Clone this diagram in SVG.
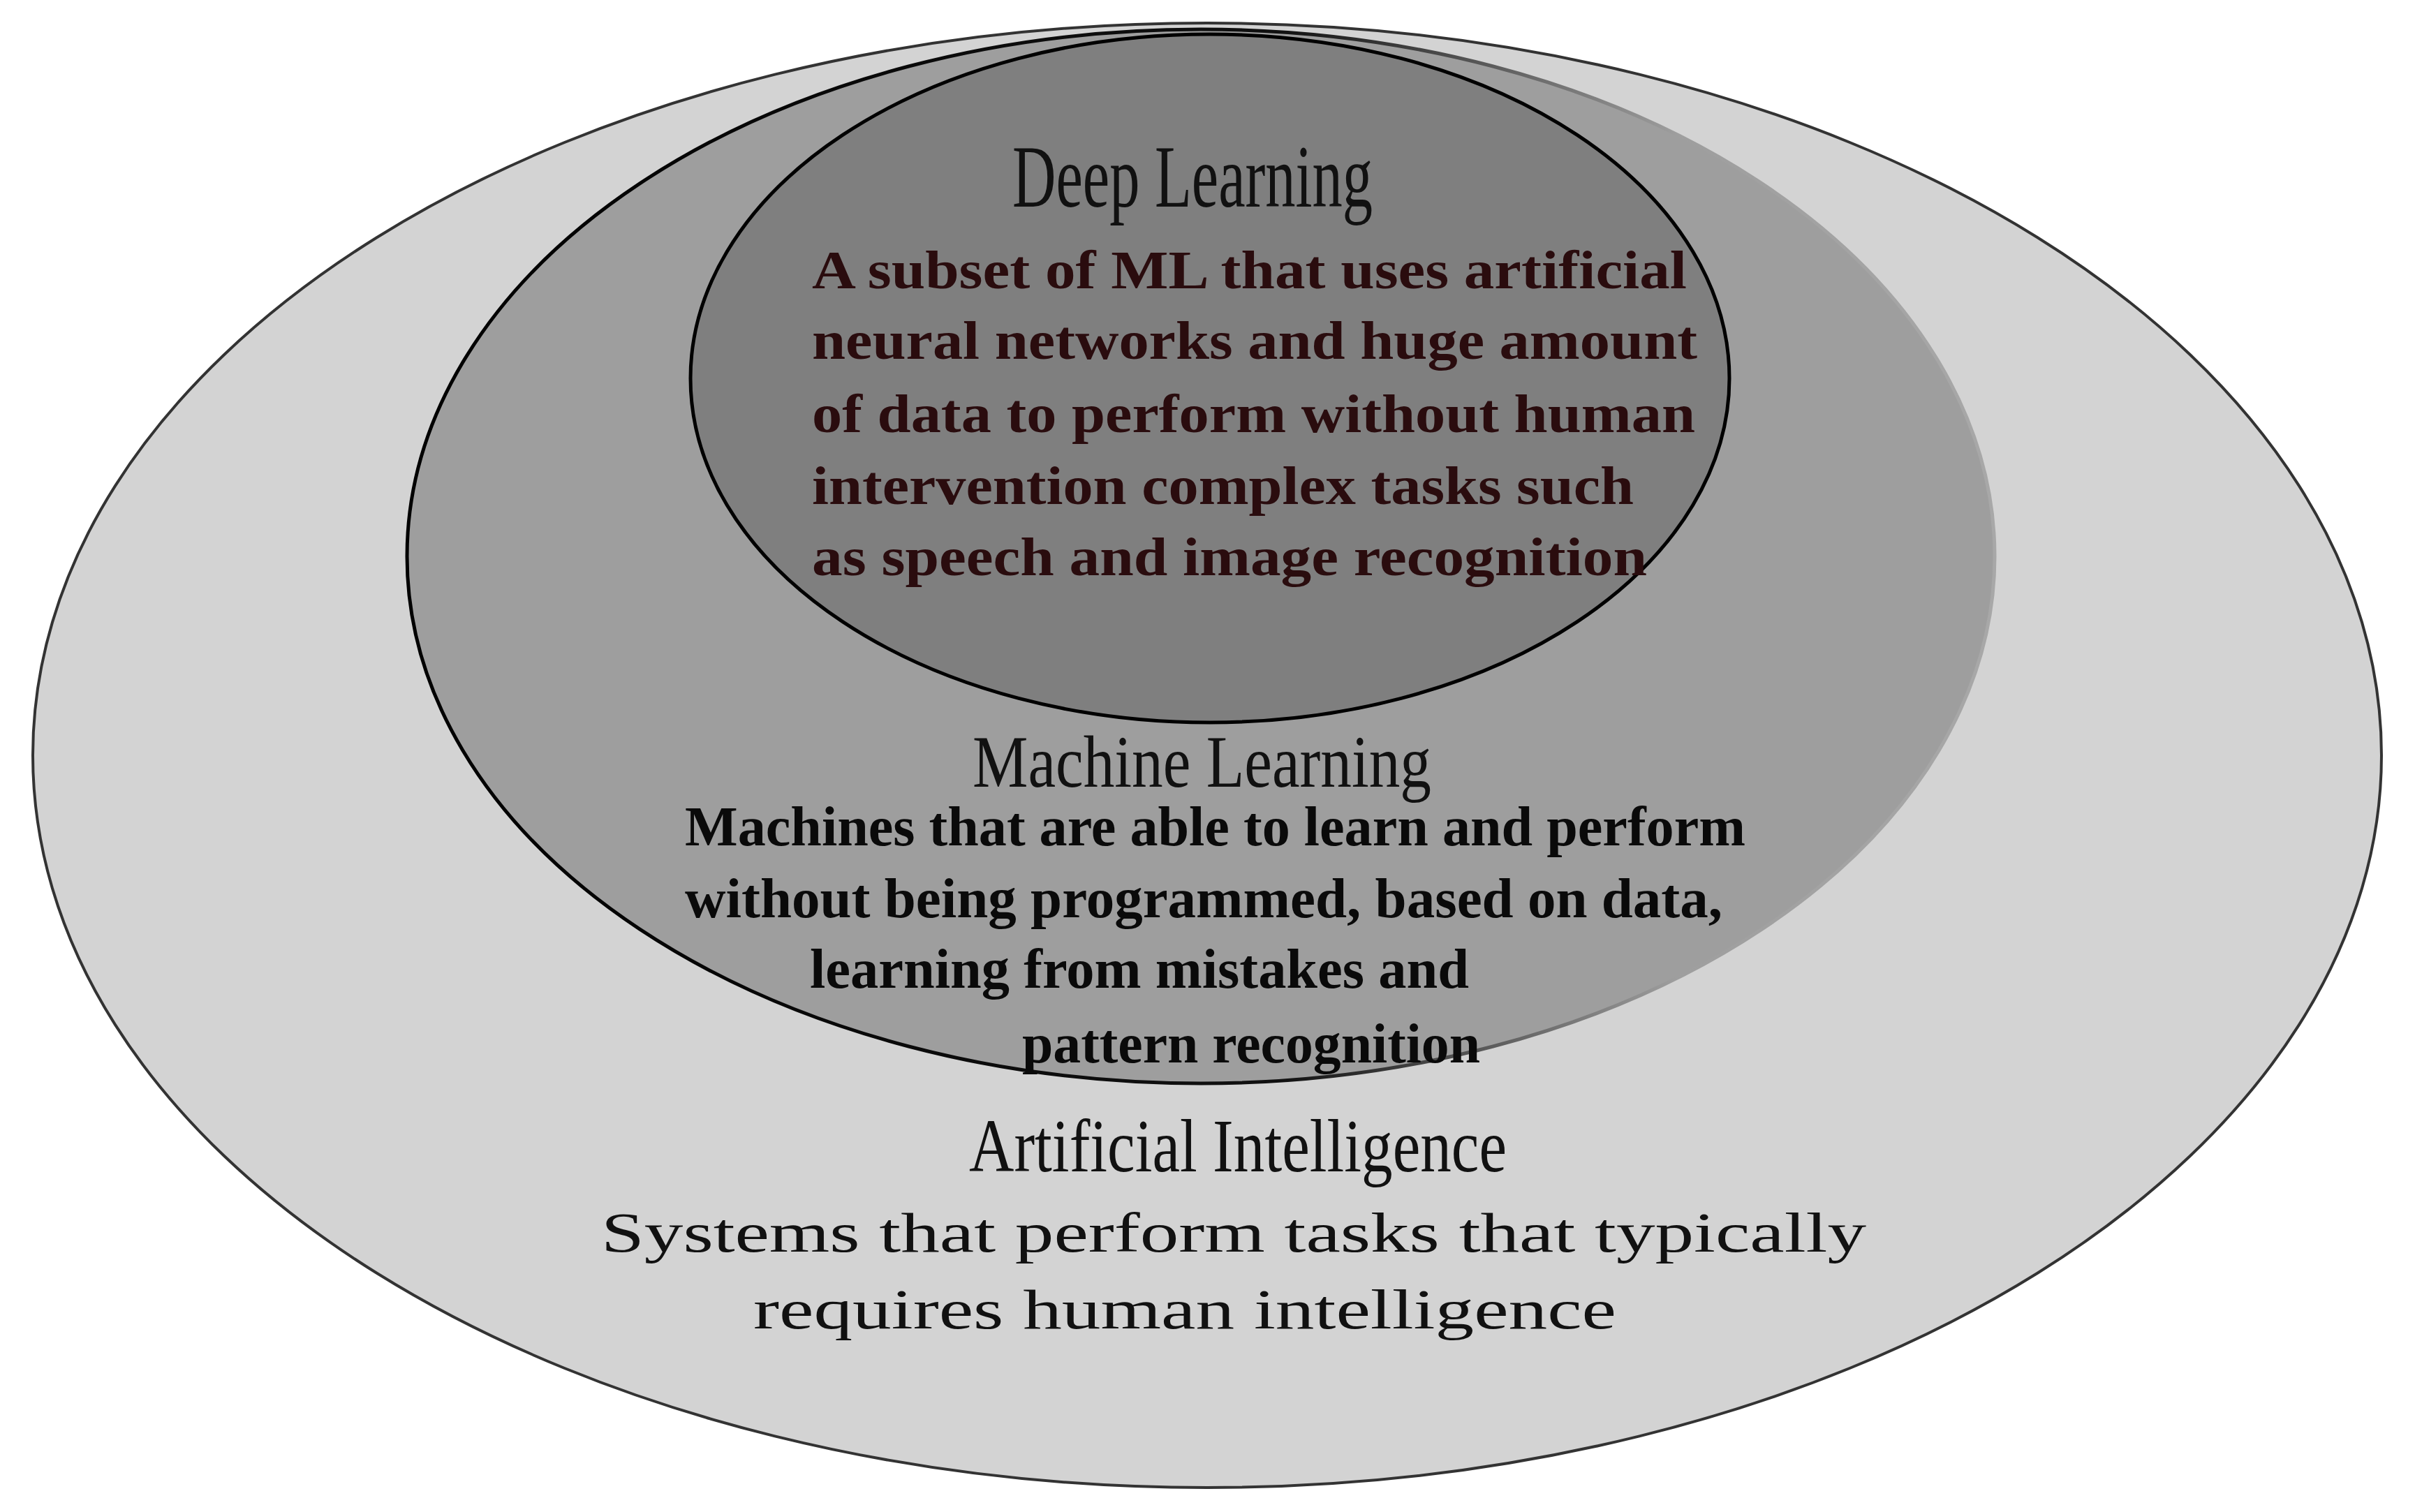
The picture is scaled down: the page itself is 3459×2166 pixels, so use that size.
<svg xmlns="http://www.w3.org/2000/svg" width="3459" height="2166" viewBox="0 0 3459 2166">
  <style>
    .title { font-family: "Liberation Serif", "Times New Roman", serif; font-weight: normal; fill: #111; }
    .dlbody { font-family: "Liberation Serif", "Times New Roman", serif; font-weight: bold; fill: #2a0c0e; font-size: 78px; }
    .mlbody { font-family: "Liberation Serif", "Times New Roman", serif; font-weight: bold; fill: #0a0a0a; font-size: 80px; }
    .aibody { font-family: "Liberation Serif", "Times New Roman", serif; font-weight: normal; fill: #111; font-size: 80px; }
  </style>
  <defs>
    <linearGradient id="mlStroke" x1="0" y1="0" x2="1" y2="0">
      <stop offset="0" stop-color="#000"/>
      <stop offset="0.55" stop-color="#111"/>
      <stop offset="0.8" stop-color="#9e9e9e"/>
      <stop offset="1" stop-color="#a8a8a8"/>
    </linearGradient>
  </defs>
  <rect x="0" y="0" width="3459" height="2166" fill="#ffffff"/>
  <g id="connectors"/>
  <g id="ai">
    <ellipse cx="1729" cy="1082" rx="1682" ry="1049" fill="#d3d3d3" stroke="#333" stroke-width="4"/>
    <text class="title" x="1388" y="1678" font-size="108" textLength="770" lengthAdjust="spacingAndGlyphs">Artificial Intelligence</text>
    <text class="aibody" x="861" y="1793" textLength="1812" lengthAdjust="spacingAndGlyphs">Systems that perform tasks that typically</text>
    <text class="aibody" x="1079" y="1903" textLength="1236" lengthAdjust="spacingAndGlyphs">requires human intelligence</text>
  </g>
  <g id="ml">
    <ellipse cx="1720" cy="797" rx="1137" ry="755" fill="#9e9e9e" stroke="url(#mlStroke)" stroke-width="5"/>
    <text class="title" x="1393" y="1127" font-size="106" textLength="657" lengthAdjust="spacingAndGlyphs">Machine Learning</text>
    <text class="mlbody" x="981" y="1211" textLength="1519" lengthAdjust="spacingAndGlyphs">Machines that are able to learn and perform</text>
    <text class="mlbody" x="981" y="1314" textLength="1486" lengthAdjust="spacingAndGlyphs">without being programmed, based on data,</text>
    <text class="mlbody" x="1160" y="1415" textLength="944" lengthAdjust="spacingAndGlyphs">learning from mistakes and</text>
    <text class="mlbody" x="1464" y="1522" textLength="656" lengthAdjust="spacingAndGlyphs">pattern recognition</text>
  </g>
  <g id="dl">
    <ellipse cx="1733" cy="542" rx="744" ry="493" fill="#7f7f7f" stroke="#000" stroke-width="5"/>
    <text class="title" x="1450" y="296" font-size="128" textLength="516" lengthAdjust="spacingAndGlyphs">Deep Learning</text>
    <text class="dlbody" x="1163" y="413" textLength="1253" lengthAdjust="spacingAndGlyphs">A subset of ML that uses artificial</text>
    <text class="dlbody" x="1163" y="514" textLength="1268" lengthAdjust="spacingAndGlyphs">neural networks and huge amount</text>
    <text class="dlbody" x="1163" y="619" textLength="1265" lengthAdjust="spacingAndGlyphs">of data to perform without human</text>
    <text class="dlbody" x="1163" y="722" textLength="1177" lengthAdjust="spacingAndGlyphs">intervention complex tasks such</text>
    <text class="dlbody" x="1163" y="824" textLength="1196" lengthAdjust="spacingAndGlyphs">as speech and image recognition</text>
  </g>
</svg>
